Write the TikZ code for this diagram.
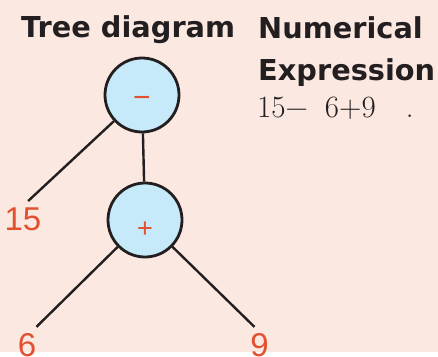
\documentclass[tikz,border=0pt]{standalone}
\usepackage{fontspec}
\newfontfamily\headfont{DejaVu Sans}
\newfontfamily\leaffont{Liberation Sans}
\usetikzlibrary{positioning}
\definecolor{bgpeach}{HTML}{FBE9E1}
\definecolor{opblue}{HTML}{C6EAF9}
\definecolor{numred}{HTML}{E2502F}
\definecolor{inkdark}{HTML}{231F20}

\begin{document}
\begin{tikzpicture}[x=1pt, y=-1pt,
    opnode/.style={circle, draw=inkdark, line width=2.8pt, fill=opblue, minimum size=74pt, inner sep=0pt,
        text=numred, font=\leaffont\fontsize{30}{30}\selectfont, text height=24pt, text depth=0pt},
    leaf/.style={text=numred, font=\leaffont\fontsize{33}{33}\selectfont, inner sep=0pt, text height=24pt, text depth=0pt},
    branch/.style={draw=inkdark, line width=2.4pt},
    heading/.style={font=\headfont\bfseries\fontsize{28.8}{30}\selectfont, text=inkdark, inner sep=0pt, anchor=base west}]

    % Background
    \fill[bgpeach] (0,0) rectangle (438,352);

    % Operators
    \node[opnode] (minus) at (142,95) {−};
    \node[opnode, text height=34pt, font=\leaffont\fontsize{27}{27}\selectfont] (plus) at (145,220) {+};

    % Numbers
    \node[leaf] (n15) at (23,218) {15};
    \node[leaf] (n6) at (27,344) {6};
    \node[leaf] (n9) at (259.5,344) {9};

    % Branches
    \draw[branch] (minus) -- (plus);
    \draw[branch, shorten >=7pt] (minus) -- (n15.north);
    \draw[branch, shorten >=7pt] (plus) -- (n6.70);
    \draw[branch, shorten >=7pt] (plus) -- (n9.north);

    % Headings
    \node[heading] (treehead) at (21,37) {Tree diagram};
    \node[heading] (numhead) at (258,38) {Numerical};
    \node[heading] (exprhead) at (258,80) {Expression};
    \node[anchor=base west, inner sep=0pt, text=inkdark, font=\fontsize{31}{31}\selectfont] (expr) at (257,117)
        {15−\hspace{17pt}6+9\hspace{30pt}.};
\end{tikzpicture}
\end{document}
